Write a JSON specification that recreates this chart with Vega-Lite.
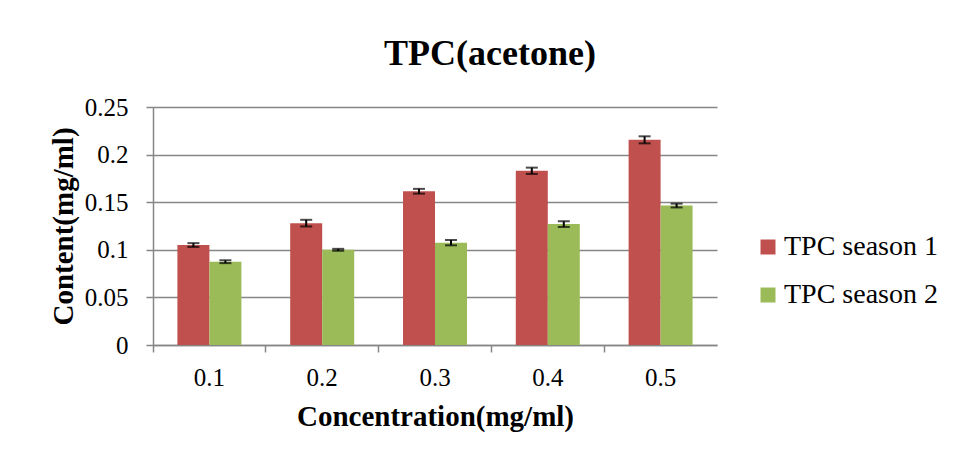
{
  "$schema": "https://vega.github.io/schema/vega-lite/v6.json",
  "autosize": "none",
  "width": 564,
  "height": 238,
  "padding": {"left": 153, "top": 107, "right": 239, "bottom": 112},
  "background": "white",
  "config": {
    "font": "Times New Roman, Liberation Serif, serif",
    "view": {"stroke": null},
    "style": {"guide-label": {"font": "Times New Roman, Liberation Serif, serif"}, "guide-title": {"font": "Times New Roman, Liberation Serif, serif"}},
    "axis": {"domainColor": "#868686", "tickColor": "#868686", "gridColor": "#868686", "labelColor": "black", "titleColor": "black", "labelFont": "Times New Roman, Liberation Serif, serif", "titleFont": "Times New Roman, Liberation Serif, serif"},
    "legend": {"labelFont": "Times New Roman, Liberation Serif, serif"}
  },
  "title": {"text": "TPC(acetone)", "font": "Times New Roman, Liberation Serif, serif", "fontSize": 36, "fontWeight": "bold", "color": "black", "anchor": "middle", "dx": 55, "offset": 22},
  "data": {"values": [
    {"conc": "0.1", "series": "TPC season 1", "value": 0.105, "lo": 0.103, "hi": 0.107},
    {"conc": "0.1", "series": "TPC season 2", "value": 0.0875, "lo": 0.086, "hi": 0.089},
    {"conc": "0.2", "series": "TPC season 1", "value": 0.128, "lo": 0.1245, "hi": 0.1315},
    {"conc": "0.2", "series": "TPC season 2", "value": 0.1, "lo": 0.099, "hi": 0.101},
    {"conc": "0.3", "series": "TPC season 1", "value": 0.1615, "lo": 0.159, "hi": 0.164},
    {"conc": "0.3", "series": "TPC season 2", "value": 0.1075, "lo": 0.1047, "hi": 0.1103},
    {"conc": "0.4", "series": "TPC season 1", "value": 0.183, "lo": 0.1797, "hi": 0.1863},
    {"conc": "0.4", "series": "TPC season 2", "value": 0.127, "lo": 0.124, "hi": 0.13},
    {"conc": "0.5", "series": "TPC season 1", "value": 0.2155, "lo": 0.2118, "hi": 0.2192},
    {"conc": "0.5", "series": "TPC season 2", "value": 0.1465, "lo": 0.1445, "hi": 0.1485}
  ]},
  "encoding": {
    "x": {"field": "conc", "type": "nominal", "sort": null,
      "scale": {"paddingInner": 0, "paddingOuter": 0},
      "axis": {"title": "Concentration(mg/ml)", "labelAngle": 0, "labelFontSize": 25, "titleFontSize": 29, "titleFontWeight": "bold", "tickSize": 7, "labelPadding": 13, "titlePadding": 12, "domainWidth": 1.5, "tickWidth": 1.5, "bandPosition": 0}},
    "xOffset": {"field": "series", "type": "nominal", "scale": {"paddingInner": 0, "paddingOuter": 0.7625}}
  },
  "layer": [
    {
      "mark": {"type": "bar"},
      "encoding": {
        "y": {"field": "value", "type": "quantitative",
          "scale": {"domain": [0, 0.25], "nice": false},
          "axis": {"title": "Content(mg/ml)", "values": [0, 0.05, 0.1, 0.15, 0.2, 0.25], "format": ".2~f", "labelFontSize": 25, "titleFontSize": 29, "titleFontWeight": "bold", "tickSize": 7, "labelPadding": 18, "titlePadding": 6, "grid": true, "gridWidth": 1.5, "domainWidth": 1.5, "tickWidth": 1.5}},
        "color": {"field": "series", "type": "nominal",
          "scale": {"domain": ["TPC season 1", "TPC season 2"], "range": ["#C0504D", "#9BBB59"]},
          "legend": {"title": null, "orient": "none", "legendX": 601, "legendY": 126, "padding": 0, "symbolType": "square", "symbolSize": 225, "symbolStrokeWidth": 0, "symbolOpacity": 1, "labelFontSize": 28, "labelOffset": 2, "rowPadding": 20, "labelColor": "black"}}
      }
    },
    {
      "mark": {"type": "rule", "color": "black", "strokeWidth": 2},
      "encoding": {
        "y": {"field": "lo", "type": "quantitative"},
        "y2": {"field": "hi"}
      }
    },
    {
      "mark": {"type": "tick", "color": "black", "thickness": 2, "size": 12},
      "encoding": {"y": {"field": "lo", "type": "quantitative"}}
    },
    {
      "mark": {"type": "tick", "color": "black", "thickness": 2, "size": 12},
      "encoding": {"y": {"field": "hi", "type": "quantitative"}}
    }
  ]
}
